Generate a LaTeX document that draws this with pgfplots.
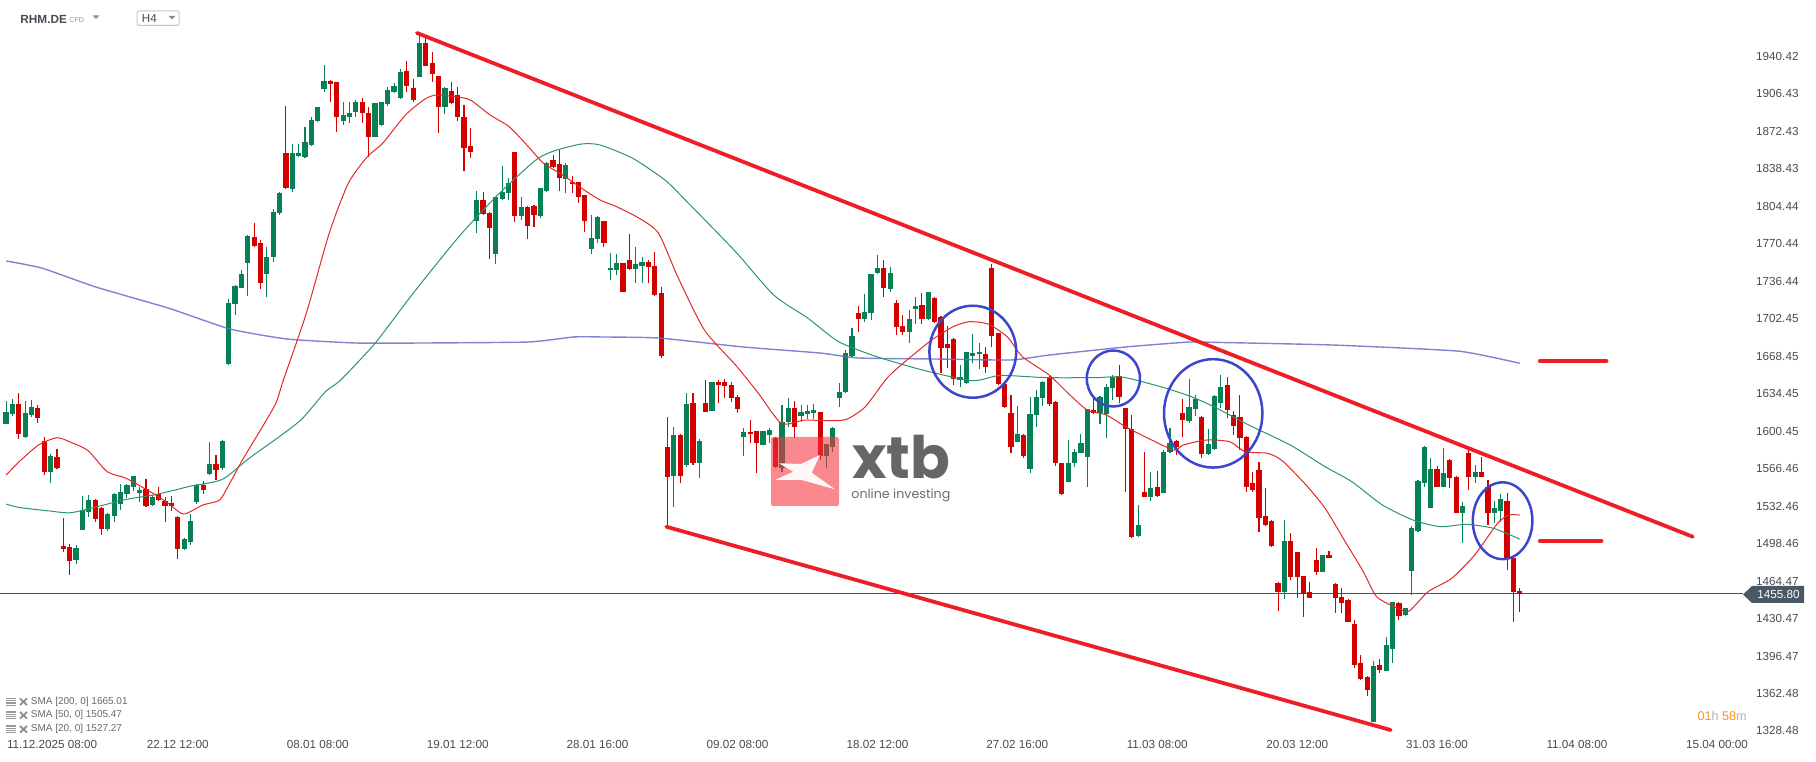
\documentclass[border=0pt]{standalone}
\usepackage{graphicx}
\usepackage{pgfplots}
\pgfplotsset{compat=1.18}
\usepackage{pgfplotstable}
\usepackage{fontspec}
\setmainfont{Liberation Sans}
\newfontfamily\logofont{Poppins}
\definecolor{upc}{RGB}{8,128,86}
\definecolor{dnc}{RGB}{212,0,0}
\definecolor{sma20}{RGB}{226,40,40}
\definecolor{sma50}{RGB}{40,150,110}
\definecolor{sma200}{RGB}{105,110,200}
\definecolor{trend}{RGB}{238,30,38}
\definecolor{circ}{RGB}{60,70,205}
\definecolor{txt}{RGB}{70,76,84}
\definecolor{tagc}{RGB}{74,88,102}
\definecolor{orng}{RGB}{247,148,29}
\definecolor{logored}{RGB}{244,52,62}
\definecolor{legtxt}{RGB}{105,105,105}
\definecolor{pline}{RGB}{72,82,92}

\pgfplotstableread{
i o h l c
0 1610.2 1631.1 1609.5 1620.5
1 1619.3 1632.3 1617.5 1628.0
2 1628.0 1637.7 1596.6 1601.1
3 1598.4 1630.5 1597.5 1619.6
4 1618.4 1631.7 1615.9 1625.3
5 1624.4 1627.1 1611.1 1615.6
6 1594.5 1598.1 1563.6 1566.7
7 1566.7 1582.7 1556.7 1580.9
8 1579.7 1587.2 1569.1 1570.3
9 1499.3 1524.6 1494.1 1496.8
10 1498.3 1500.8 1473.0 1486.0
11 1486.6 1500.2 1483.2 1497.4
12 1514.1 1544.6 1513.5 1531.9
13 1530.4 1545.5 1525.3 1540.7
14 1540.7 1541.5 1521.3 1523.4
15 1533.7 1534.5 1509.5 1515.0
16 1515.0 1529.0 1513.2 1528.0
17 1526.8 1547.6 1521.3 1546.4
18 1537.6 1555.2 1531.9 1548.2
19 1546.1 1555.8 1542.5 1554.6
20 1552.5 1563.0 1549.1 1562.4
21 1547.6 1553.1 1539.5 1550.0
22 1551.0 1560.3 1535.0 1535.8
23 1536.7 1545.5 1536.0 1543.4
24 1546.1 1553.1 1539.8 1540.7
25 1540.4 1544.0 1521.3 1535.8
26 1537.9 1544.6 1531.3 1535.5
27 1525.6 1526.5 1487.5 1496.8
28 1496.8 1506.2 1496.0 1505.6
29 1503.2 1528.0 1500.5 1521.9
30 1539.2 1555.8 1537.3 1554.9
31 1554.6 1558.2 1546.7 1550.3
32 1564.9 1593.6 1564.0 1573.3
33 1573.3 1581.5 1559.1 1568.5
34 1569.7 1595.4 1568.2 1594.5
35 1664.1 1723.3 1663.5 1719.4
36 1718.5 1736.0 1708.5 1735.1
37 1733.6 1749.6 1733.0 1745.7
38 1755.7 1781.4 1726.1 1780.5
39 1779.3 1792.0 1770.8 1771.4
40 1774.1 1776.8 1732.1 1737.5
41 1745.7 1770.8 1724.8 1761.1
42 1761.7 1804.7 1757.2 1802.2
43 1801.6 1820.0 1799.5 1819.5
44 1855.4 1898.4 1823.5 1824.3
45 1823.1 1863.9 1820.7 1855.4
46 1853.3 1864.2 1852.4 1855.7
47 1851.8 1879.3 1851.0 1865.4
48 1863.0 1888.1 1862.4 1885.7
49 1884.5 1897.8 1884.0 1897.2
50 1914.1 1935.5 1911.4 1921.0
51 1921.0 1921.5 1902.3 1918.3
52 1920.1 1920.5 1875.1 1888.7
53 1885.1 1902.3 1880.8 1890.2
54 1888.7 1902.3 1883.3 1891.7
55 1893.2 1903.8 1888.7 1902.3
56 1901.7 1905.3 1883.3 1891.7
57 1891.7 1897.2 1852.4 1870.6
58 1870.6 1901.5 1870.0 1900.8
59 1881.1 1902.3 1880.2 1901.7
60 1900.2 1915.3 1898.7 1912.9
61 1911.4 1918.9 1910.5 1916.5
62 1905.9 1931.6 1904.4 1929.5
63 1930.1 1939.2 1911.4 1916.5
64 1914.4 1922.5 1901.7 1903.8
65 1925.0 1965.2 1924.5 1955.2
66 1955.2 1960.6 1934.6 1935.0
67 1937.1 1947.6 1920.4 1927.4
68 1925.6 1926.0 1873.6 1897.2
69 1897.2 1915.5 1890.8 1915.0
70 1912.3 1920.4 1900.3 1900.8
71 1908.3 1915.3 1885.1 1888.1
72 1888.1 1899.3 1839.7 1860.6
73 1862.1 1878.1 1850.9 1857.0
74 1794.4 1821.3 1782.9 1813.1
75 1813.1 1820.7 1799.5 1800.1
76 1801.6 1802.0 1759.3 1788.0
77 1763.8 1816.0 1754.8 1815.5
78 1814.3 1843.9 1813.1 1820.1
79 1819.2 1832.8 1813.1 1828.8
80 1856.4 1857.0 1793.5 1798.9
81 1798.9 1816.0 1795.0 1807.1
82 1807.1 1807.6 1777.4 1789.8
83 1808.0 1808.5 1788.9 1799.5
84 1798.6 1824.2 1796.5 1823.7
85 1821.6 1847.3 1820.7 1846.4
86 1849.4 1854.0 1841.8 1843.3
87 1845.5 1858.5 1821.6 1832.8
88 1831.9 1846.4 1819.2 1844.9
89 1829.7 1834.9 1819.2 1827.6
90 1829.1 1829.5 1810.1 1816.1
91 1817.7 1818.0 1783.8 1794.4
92 1768.4 1799.5 1763.8 1778.4
93 1777.4 1798.5 1773.8 1798.0
94 1794.0 1794.5 1770.7 1774.4
95 1749.6 1765.3 1740.5 1751.1
96 1749.6 1764.1 1745.0 1755.6
97 1755.6 1756.0 1729.5 1729.9
98 1758.6 1782.2 1749.5 1750.2
99 1750.2 1770.1 1737.5 1754.7
100 1753.2 1761.7 1737.5 1756.8
101 1756.8 1758.6 1737.5 1752.6
102 1753.2 1766.2 1726.5 1726.9
103 1728.4 1733.9 1669.5 1671.9
104 1589.4 1616.0 1516.8 1562.2
105 1562.8 1607.5 1535.0 1599.9
106 1599.9 1600.5 1556.1 1562.8
107 1572.7 1637.7 1571.2 1628.1
108 1628.7 1637.7 1572.7 1574.9
109 1574.9 1596.0 1560.6 1594.5
110 1628.7 1649.8 1620.5 1621.1
111 1622.0 1648.3 1621.5 1647.7
112 1647.7 1649.8 1629.3 1645.3
113 1647.7 1651.0 1633.2 1644.7
114 1645.3 1648.3 1630.2 1633.2
115 1634.1 1636.2 1620.2 1623.5
116 1598.4 1606.0 1580.9 1602.4
117 1602.4 1613.6 1592.4 1600.5
118 1603.6 1604.0 1565.8 1592.4
119 1590.9 1604.0 1590.5 1603.6
120 1599.9 1606.0 1592.4 1604.5
121 1596.9 1598.4 1570.5 1571.2
122 1569.7 1627.2 1566.7 1612.0
123 1612.0 1633.2 1607.5 1624.7
124 1624.7 1631.1 1596.9 1607.5
125 1617.5 1627.2 1612.0 1620.5
126 1618.7 1627.2 1614.1 1622.0
127 1619.6 1628.1 1614.1 1622.6
128 1620.5 1621.0 1577.3 1580.9
129 1580.9 1592.0 1569.7 1591.5
130 1589.4 1607.5 1584.8 1606.0
131 1633.2 1646.8 1625.6 1638.6
132 1638.6 1677.0 1637.7 1674.0
133 1671.9 1696.7 1671.0 1689.7
134 1710.3 1716.9 1693.7 1704.8
135 1704.8 1727.5 1702.7 1711.5
136 1710.3 1746.0 1704.2 1745.6
137 1746.6 1763.2 1746.0 1751.1
138 1751.1 1758.6 1725.4 1733.0
139 1732.3 1752.0 1729.9 1746.6
140 1720.0 1722.4 1690.6 1698.2
141 1699.1 1708.8 1690.6 1693.7
142 1693.7 1713.3 1683.1 1704.8
143 1713.9 1725.4 1700.6 1716.9
144 1717.8 1728.4 1700.6 1704.8
145 1704.8 1730.0 1704.0 1729.3
146 1724.5 1725.0 1701.2 1702.7
147 1706.7 1707.9 1655.9 1679.1
148 1682.5 1698.8 1660.4 1678.5
149 1687.0 1687.5 1645.3 1650.4
150 1649.8 1663.4 1643.8 1652.2
151 1646.8 1675.5 1646.2 1674.9
152 1671.6 1691.5 1665.0 1674.0
153 1673.4 1683.1 1659.5 1675.5
154 1673.4 1680.1 1656.5 1661.3
155 1751.1 1755.0 1680.1 1690.0
156 1692.1 1692.5 1645.5 1646.2
157 1646.2 1646.5 1624.1 1625.6
158 1620.2 1636.2 1583.9 1589.4
159 1593.9 1626.2 1593.5 1600.8
160 1599.9 1600.5 1578.8 1580.9
161 1568.8 1634.7 1565.2 1618.7
162 1618.1 1640.8 1607.5 1634.1
163 1633.2 1648.8 1626.2 1648.3
164 1652.8 1653.4 1626.2 1628.1
165 1630.2 1630.5 1571.8 1574.3
166 1574.3 1575.0 1545.5 1546.4
167 1557.6 1595.4 1557.0 1574.3
168 1574.3 1586.9 1570.6 1584.8
169 1583.9 1600.8 1583.5 1592.4
170 1580.3 1623.5 1552.5 1623.2
171 1622.6 1636.2 1619.0 1619.6
172 1619.6 1635.0 1609.9 1634.7
173 1619.0 1646.2 1596.9 1643.2
174 1642.3 1654.3 1631.7 1652.8
175 1653.7 1663.4 1629.3 1634.1
176 1624.1 1624.5 1548.5 1605.1
177 1605.1 1618.1 1506.2 1507.1
178 1508.3 1536.5 1507.5 1518.3
179 1548.5 1584.8 1543.5 1544.0
180 1544.0 1566.7 1540.4 1551.6
181 1553.1 1567.6 1544.0 1544.6
182 1547.6 1586.3 1547.0 1584.8
183 1584.8 1606.0 1583.3 1592.4
184 1594.5 1595.0 1581.8 1589.4
185 1619.6 1632.6 1598.4 1613.6
186 1612.6 1650.7 1610.5 1625.0
187 1623.5 1636.2 1617.5 1632.3
188 1616.6 1617.0 1579.4 1582.4
189 1582.4 1605.4 1581.8 1591.5
190 1587.0 1635.8 1586.5 1635.3
191 1629.3 1654.4 1624.1 1643.2
192 1645.3 1652.9 1615.1 1622.6
193 1618.1 1621.7 1599.9 1608.4
194 1616.6 1636.2 1586.3 1596.9
195 1598.4 1599.0 1548.6 1553.1
196 1556.1 1566.7 1548.6 1550.1
197 1568.2 1575.2 1512.3 1524.4
198 1526.5 1552.2 1517.8 1518.3
199 1522.0 1522.5 1498.8 1499.3
200 1466.0 1466.5 1440.3 1457.3
201 1457.9 1522.9 1451.2 1503.8
202 1503.8 1511.4 1468.4 1471.5
203 1493.5 1494.0 1451.8 1471.5
204 1472.1 1472.5 1435.2 1455.4
205 1457.3 1466.9 1451.8 1452.4
206 1486.6 1497.2 1473.0 1476.0
207 1476.0 1491.5 1475.5 1491.1
208 1491.1 1494.7 1488.1 1488.7
209 1464.5 1466.0 1438.2 1452.4
210 1453.3 1461.5 1438.2 1447.9
211 1450.3 1450.8 1430.2 1430.7
212 1428.2 1432.2 1388.3 1391.4
213 1392.9 1400.4 1378.2 1378.7
214 1380.8 1381.3 1363.5 1368.7
215 1340.0 1395.0 1339.5 1390.8
216 1391.4 1396.8 1383.8 1386.8
217 1386.2 1417.1 1385.7 1409.5
218 1405.9 1448.7 1392.9 1448.2
219 1447.3 1448.8 1432.2 1436.1
220 1436.7 1443.3 1436.2 1442.8
221 1476.6 1517.7 1454.8 1515.9
222 1512.9 1559.1 1512.4 1558.2
223 1556.7 1590.3 1553.1 1589.4
224 1534.0 1579.4 1533.5 1569.1
225 1569.1 1572.1 1552.6 1553.1
226 1553.1 1588.5 1552.6 1565.2
227 1577.3 1577.8 1551.6 1560.6
228 1562.2 1562.7 1529.0 1529.5
229 1529.5 1539.5 1501.7 1535.6
230 1583.9 1587.9 1550.1 1562.2
231 1562.2 1572.7 1556.7 1566.7
232 1566.7 1580.3 1561.7 1562.2
233 1552.5 1559.1 1518.3 1528.9
234 1528.9 1540.1 1519.8 1533.4
235 1531.3 1546.1 1521.4 1541.9
236 1540.1 1547.0 1477.5 1488.1
237 1488.1 1488.5 1430.7 1457.3
238 1458.5 1461.5 1439.7 1455.8
}\candles

\begin{document}
\begin{tikzpicture}
\begin{axis}[
  at={(0pt,0pt)}, anchor=south west,
  scale only axis, width=872.45pt, height=380.5pt,
  xmin=-0.959, xmax=273.4, ymin=1304.3, ymax=1994.5,
  axis line style={draw=none}, tick style={draw=none},
  clip=false,
  xtick={5,27,...,269},
  xticklabels={\makebox[0pt][l]{\hspace{-15.45pt}11.12.2025 08:00},22.12 12:00,08.01 08:00,19.01 12:00,28.01 16:00,09.02 08:00,18.02 12:00,27.02 16:00,11.03 08:00,20.03 12:00,31.03 16:00,11.04 08:00,15.04 00:00},
  xticklabel style={anchor=center, yshift=8.35pt, inner sep=0pt, text=txt, font=\fontsize{5.85pt}{7pt}\selectfont},
  ytick={1328.48,1362.48,1396.47,1430.47,1464.47,1498.46,1532.46,1566.46,1600.45,1634.45,1668.45,1702.45,1736.44,1770.44,1804.44,1838.43,1872.43,1906.43,1940.42},
  yticklabels={1328.48,1362.48,1396.47,1430.47,1464.47,1498.46,1532.46,1566.46,1600.45,1634.45,1668.45,1702.45,1736.44,1770.44,1804.44,1838.43,1872.43,1906.43,1940.42},
  yticklabel pos=right,
  yticklabel style={anchor=east, xshift=27pt, yshift=1.7pt, inner sep=0pt, text=txt, font=\fontsize{5.85pt}{7pt}\selectfont},
]
% current price line
\addplot[draw=pline, line width=0.5pt, forget plot] coordinates {(-0.959,1455.8) (273.1,1455.8)};

% candles: wicks (bearish candles shifted out of range in the 'up' plots and vice versa)
\addplot[draw=none, mark=none, forget plot, restrict y to domain=1000:3000,
  error bars/.cd, y dir=both, y explicit, error mark=none,
  error bar style={line width=0.55pt, draw=upc, solid}]
  table[x=i, y expr={(\thisrow{h}+\thisrow{l})/2 + (\thisrow{c}<\thisrow{o})*10000}, y error expr={(\thisrow{h}-\thisrow{l})/2}]{\candles};
\addplot[draw=none, mark=none, forget plot, restrict y to domain=1000:3000,
  error bars/.cd, y dir=both, y explicit, error mark=none,
  error bar style={line width=0.55pt, draw=dnc, solid}]
  table[x=i, y expr={(\thisrow{h}+\thisrow{l})/2 + (1-(\thisrow{c}<\thisrow{o}))*10000}, y error expr={(\thisrow{h}-\thisrow{l})/2}]{\candles};
% bodies
\addplot[draw=none, mark=none, forget plot, restrict y to domain=1000:3000,
  error bars/.cd, y dir=both, y explicit, error mark=none,
  error bar style={line width=2.6pt, draw=upc, solid}]
  table[x=i, y expr={(\thisrow{o}+\thisrow{c})/2 + (\thisrow{c}<\thisrow{o})*10000}, y error expr={max(abs(\thisrow{c}-\thisrow{o})/2,0.5)}]{\candles};
\addplot[draw=none, mark=none, forget plot, restrict y to domain=1000:3000,
  error bars/.cd, y dir=both, y explicit, error mark=none,
  error bar style={line width=2.6pt, draw=dnc, solid}]
  table[x=i, y expr={(\thisrow{o}+\thisrow{c})/2 + (1-(\thisrow{c}<\thisrow{o}))*10000}, y error expr={max(abs(\thisrow{c}-\thisrow{o})/2,0.5)}]{\candles};

% SMA 200
\addplot[draw=sma200, line width=0.7pt, opacity=0.85, smooth, tension=0.3, forget plot] coordinates {
(0,1757.8) (5.6,1751.4) (14.1,1734.2) (25.5,1715.1) (35.2,1696.1) (44.2,1687.0) (55,1683.4) (65.2,1683.4) (82.1,1684.3) (89.3,1688.9) (93.4,1688.9) (102.7,1687.9) (115.9,1679.8) (128,1674.3) (134,1669.8) (146,1668.9) (158,1668.0) (164,1672.5) (176,1679.8) (186,1684.3) (190,1684.0) (208.5,1681.6) (228.4,1676.0) (238,1665.0)};
% SMA 50
\addplot[draw=sma50, line width=0.5pt, smooth, tension=0.4, forget plot] coordinates {
(0,1537.3) (2,1534.3) (6.9,1531.0) (10.2,1529.5) (14.7,1535.5) (18.9,1541.6) (23.1,1545.5) (26.1,1549.4) (29.1,1553.7) (34,1559.7) (38.2,1578.8) (43.3,1599.9) (46.6,1615.0) (50.2,1639.2) (52.6,1649.8) (58,1683.1) (64,1728.5) (71.2,1779.9) (77.3,1817.7) (83.3,1849.4) (86.3,1857.9) (90.5,1863.9) (93.4,1863.0) (98.5,1851.0) (103.6,1831.2) (106.8,1813.1) (114.7,1766.2) (120.7,1726.9) (126.1,1705.8) (130.9,1684.6) (136.9,1671.0) (144.1,1658.9) (151.9,1649.2) (156.3,1654.0) (163.5,1652.0) (171.3,1652.0) (175.5,1652.5) (181.5,1643.8) (186.1,1635.3) (189.9,1625.6) (195.4,1609.0) (201.9,1590.9) (207.4,1571.2) (211.6,1557.6) (216.4,1536.5) (221.2,1522.9) (225.5,1516.8) (229.6,1518.9) (233.9,1515.3) (238,1505.5)};
% SMA 20
\addplot[draw=sma20, line width=0.5pt, smooth, tension=0.4, forget plot] coordinates {
(0,1563.6) (2.05,1575.7) (5.1,1590.9) (8,1597.5) (10.2,1593.3) (12.9,1585.7) (15.9,1566.7) (18.9,1560.6) (23.1,1547.0) (25.5,1538.0) (27.9,1528.3) (30.9,1536.4) (33,1539.5) (34,1544.0) (37,1575.7) (40,1604.5) (42.4,1628.6) (43.6,1649.8) (47.2,1710.3) (50.8,1782.9) (53.8,1828.2) (56.8,1852.4) (59.2,1864.5) (62.8,1890.2) (65.8,1904.4) (67.6,1908.3) (70.6,1906.8) (73,1903.8) (76.1,1890.2) (79.1,1879.6) (82.1,1861.5) (84.5,1846.4) (87.5,1835.8) (90.5,1823.7) (93.4,1813.1) (96,1807.0) (99.6,1796.4) (102.6,1782.8) (105.6,1743.5) (109.8,1695.2) (114.7,1663.4) (118.3,1637.7) (121.9,1610.5) (125.5,1613.5) (129.1,1612.9) (132.1,1614.1) (135.1,1625.6) (138.7,1652.8) (142.9,1674.0) (145.9,1687.6) (148.9,1698.2) (151.4,1702.7) (154.4,1700.6) (157.4,1689.1) (159.8,1671.0) (164,1654.4) (167,1637.7) (170,1622.6) (173,1618.1) (176,1607.5) (179.6,1596.9) (183.6,1586.3) (185.1,1590.9) (188.7,1595.4) (192.4,1593.9) (194.8,1584.8) (198.4,1583.3) (200.7,1576.4) (204.4,1554.6) (207.4,1533.4) (210.4,1504.7) (213.4,1476.0) (215.5,1453.3) (218.8,1442.8) (220.6,1440.3) (223.6,1457.9) (227.3,1470.0) (230.9,1491.1) (234.5,1519.8) (236.3,1527.4) (238,1527.3)};

% trend channel
\addplot[draw=trend, line width=1.9pt, line cap=round, forget plot] coordinates {(64.6,1964.6) (265.2,1507.7)};
\addplot[draw=trend, line width=1.9pt, line cap=round, forget plot] coordinates {(103.8,1516.8) (217.7,1332.4)};
\addplot[draw=trend, line width=2.2pt, line cap=round, forget plot] coordinates {(241.2,1667.1) (251.6,1667.1)};
\addplot[draw=trend, line width=2.2pt, line cap=round, forget plot] coordinates {(241.2,1503.8) (250.8,1503.8)};

% circles
\draw[circ, line width=1.25pt] (axis cs:152.0,1675.5) ellipse [x radius=21.7pt, y radius=23pt];
\draw[circ, line width=1.25pt] (axis cs:174.1,1651.2) ellipse [x radius=13.3pt, y radius=14pt];
\draw[circ, line width=1.25pt] (axis cs:189.8,1619.6) ellipse [x radius=24.6pt, y radius=27.1pt];
\draw[circ, line width=1.25pt] (axis cs:235.3,1522.2) ellipse [x radius=14.9pt, y radius=19.2pt];
\end{axis}

\begin{scope}[x=0.5pt, y=-0.5pt, shift={(0pt,380.5pt)}]
% price tag
\fill[tagc] (1743,594.5) -- (1752,586) -- (1804,586) -- (1804,603) -- (1752,603) -- cycle;
\node[text=white, inner sep=0pt, font=\fontsize{5.85pt}{7pt}\selectfont] at (1778.5,594.7) {1455.80};
% countdown
\node[anchor=east, inner sep=0pt, font=\fontsize{6.3pt}{7pt}\selectfont] at (1747,716) {\textcolor{orng}{01}\textcolor{black!30}{h} \textcolor{orng}{58}\textcolor{black!30}{m}};
% header
\node[anchor=west, inner sep=0pt, text=txt, font=\bfseries\fontsize{5.9pt}{7pt}\selectfont] at (20,19) {RHM.DE};
\node[anchor=west, inner sep=0pt, text=black!40, font=\fontsize{3.6pt}{4pt}\selectfont] at (69,20) {CFD};
\fill[black!45] (92.5,15.3) -- (99.5,15.3) -- (96,18.8) -- cycle;
\draw[black!22, line width=0.5pt, rounded corners=1pt, fill=white] (137,11) rectangle (179,25.5);
\node[anchor=west, inner sep=0pt, text=txt, font=\fontsize{5.8pt}{7pt}\selectfont] at (141.5,18.8) {H4};
\fill[black!45] (168.5,16) -- (175.5,16) -- (172,19.3) -- cycle;
% legend of indicators
\foreach \yy/\tt in {701.7/{SMA [200, 0] 1665.01},715.3/{SMA [50, 0] 1505.47},729.3/{SMA [20, 0] 1527.27}}{
  \foreach \d in {-3.4,-1.1,1.2,3.5} \draw[black!40, line width=0.6pt] (6,\yy+\d) -- (15.5,\yy+\d);
  \draw[black!45, line width=0.9pt] (20,\yy-3.3) -- (27,\yy+3.3) (20,\yy+3.3) -- (27,\yy-3.3);
  \node[anchor=west, inner sep=0pt, text=legtxt, font=\fontsize{5pt}{6pt}\selectfont] at (30.5,\yy) {\tt};
}
% watermark logo
\fill[logored, fill opacity=0.58, rounded corners=1pt] (771,437) rectangle (839,506);
\fill[white, opacity=0.95] (779,463.3) -- (801,464) -- (820,455) -- (811.7,472.7) -- (835,489.3) -- (801.7,480) -- (775,480) -- (793.3,471.7) -- cycle;
\node[anchor=base west, inner sep=0pt, text=black!60] at (852,478.5) {\resizebox{49pt}{!}{\logofont\bfseries xtb}};
\node[anchor=base west, inner sep=0pt, text=black!58] at (851,499) {\resizebox{49.5pt}{!}{\logofont online investing}};
\end{scope}
\pgfresetboundingbox
\path[use as bounding box] (0pt,0pt) rectangle (908pt,380.5pt);
\end{tikzpicture}
\end{document}
